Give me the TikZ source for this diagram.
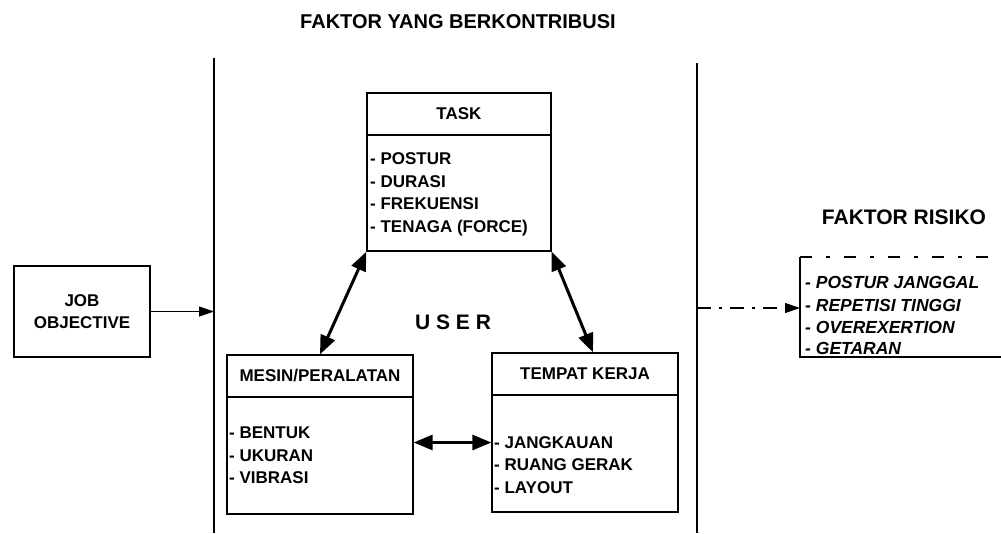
\documentclass[tikz,border=0pt]{standalone}
\usepackage{fontspec}
\setmainfont{Liberation Sans}
\usetikzlibrary{arrows.meta,calc}
\begin{document}
\begin{tikzpicture}[x=1pt,y=-1pt,
  box/.style={draw, line width=1.3pt, inner sep=0pt},
  hdr/.style={font=\fontsize{17}{20}\selectfont\bfseries},
  item/.style={font=\fontsize{17}{20}\selectfont\bfseries, inner sep=0pt, anchor=base west},
  ritem/.style={font=\fontsize{17.5}{20}\selectfont\bfseries\itshape, inner sep=0pt, anchor=base west},
  big/.style={font=\fontsize{20}{24}\selectfont\bfseries, inner sep=0pt},
  vline/.style={line width=2pt},
  dbl/.style={line width=3pt, {Triangle[length=19pt,width=15pt]}-{Triangle[length=19pt,width=15pt]}},
  sarr/.style={line width=1.2pt, -{Triangle[length=15pt,width=10pt]}},
  thin/.style={line width=1.3pt},
]
\useasboundingbox (0,0) rectangle (1001,533);
% title
\node[big] (title) at (458,22) {FAKTOR YANG BERKONTRIBUSI};
% vertical lines
\coordinate (ltop) at (214,58);
\coordinate (lbot) at (214,533);
\coordinate (rtop) at (697,63);
\coordinate (rbot) at (697,533);
\draw[vline] (ltop) -- (lbot);
\draw[vline] (rtop) -- (rbot);
% TASK
\node[box, hdr, minimum width=184pt, minimum height=42pt] (taskh) at (459,114) {TASK};
\node[box, minimum width=184pt, minimum height=116pt] (taskb) at (459,193) {};
\node[item] (t1) at (370,164.5) {- POSTUR};
\node[item] (t2) at (370,187) {- DURASI};
\node[item] (t3) at (370,209.5) {- FREKUENSI};
\node[item] (t4) at (370,232) {- TENAGA (FORCE)};
% MESIN
\node[box, hdr, minimum width=186pt, minimum height=42pt] (mesinh) at (320,376) {MESIN/PERALATAN};
\node[box, minimum width=186pt, minimum height=117pt] (mesinb) at (320,455.5) {};
\node[item] (m1) at (229,438.5) {- BENTUK};
\node[item] (m2) at (229,461) {- UKURAN};
\node[item] (m3) at (229,483.5) {- VIBRASI};
% TEMPAT KERJA
\node[box, hdr, minimum width=186pt, minimum height=42pt] (tempath) at (585,374) {TEMPAT KERJA};
\node[box, minimum width=186pt, minimum height=117pt] (tempatb) at (585,453.5) {};
\node[item] (k1) at (494,448.5) {- JANGKAUAN};
\node[item] (k2) at (494,470.5) {- RUANG GERAK};
\node[item] (k3) at (494,493) {- LAYOUT};
% USER
\node[big, font=\fontsize{21}{24}\selectfont\bfseries] (user) at (453,322) {U S E R};
% JOB OBJECTIVE
\node[box, align=center, font=\fontsize{17}{22}\selectfont\bfseries, minimum width=136pt, minimum height=91pt] (job) at (82,311.5) {JOB\\OBJECTIVE};
% arrows between boxes
\draw[dbl] (taskb.south west) -- (mesinh.north);
\draw[dbl] (taskb.south east) -- ($(tempath.north)+(8,0)$);
\draw[dbl] ($(mesinb.east)+(0,-13)$) -- ($(tempatb.west)+(0,-11)$);
% input / output arrows
\coordinate (lin) at (214,311.5);
\draw[sarr] (job.east) -- (lin);
\coordinate (rout) at (697,308);
\coordinate (rin) at (800,308);
\draw[sarr, dash pattern=on 14pt off 8pt on 3pt off 8pt] (rout) -- (rin);
% FAKTOR RISIKO
\node[big, font=\fontsize{21}{24}\selectfont\bfseries] (risk) at (904,217) {FAKTOR RISIKO};
\coordinate (rtl) at (800,257);
\coordinate (rbl) at (800,357);
\coordinate (rtr) at (1001,257);
\coordinate (rbr) at (1001,357);
\draw[thin] (rtl) -- (rbl) -- (rbr);
\draw[thin, dash pattern=on 12pt off 14pt on 4pt off 14pt] (rtl) -- (rtr);
\node[ritem] (r1) at (805,288.5) {- POSTUR JANGGAL};
\node[ritem] (r2) at (805,311.5) {- REPETISI TINGGI};
\node[ritem] (r3) at (805,333.5) {- OVEREXERTION};
\node[ritem] (r4) at (805,354.5) {- GETARAN};
\end{tikzpicture}
\end{document}
